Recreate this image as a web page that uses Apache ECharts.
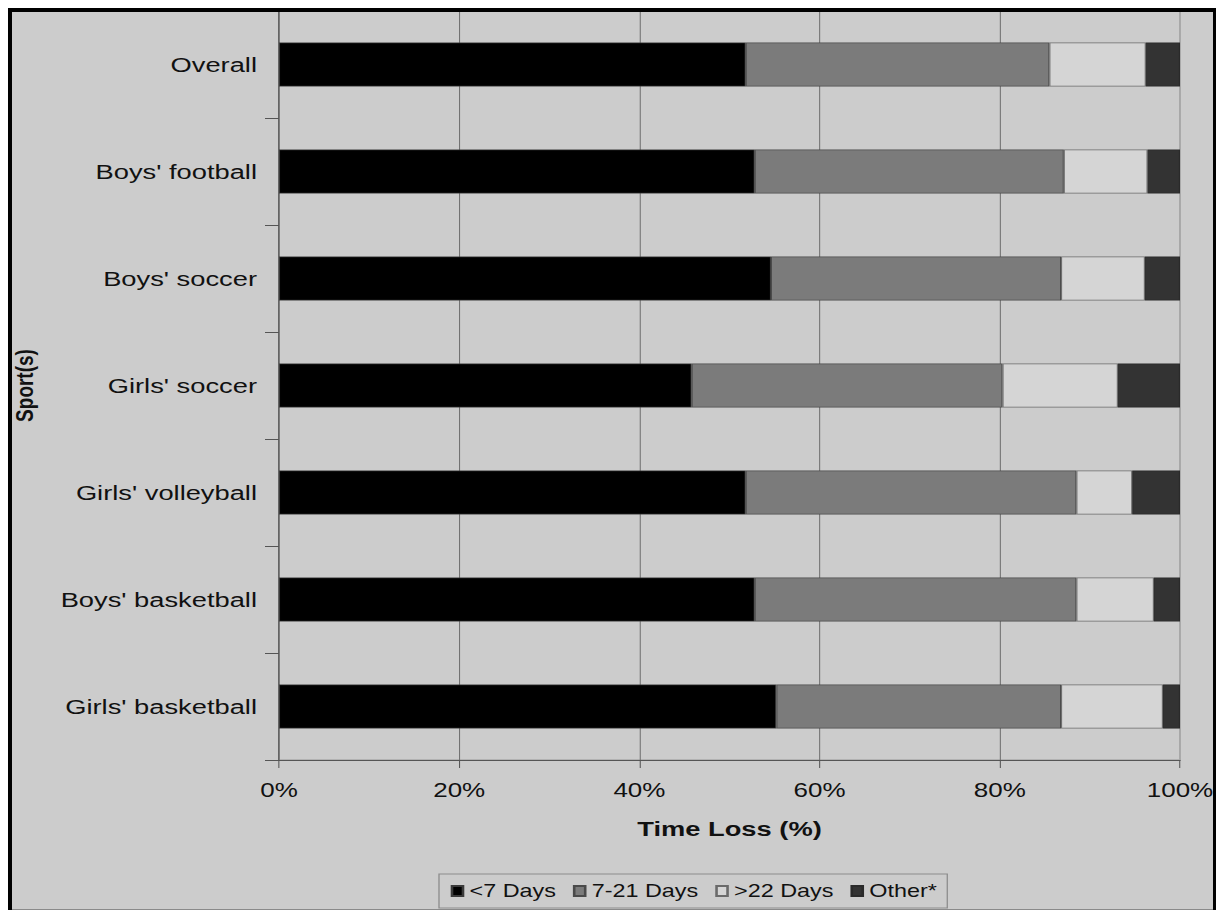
<!DOCTYPE html>
<html>
<head>
<meta charset="utf-8">
<script src="https://cdn.jsdelivr.net/npm/echarts@6/dist/echarts.min.js"></script>
<style>
  html, body { margin: 0; padding: 0; background: #ffffff; overflow: hidden; }
  /* the chart is laid out narrow and widened horizontally, giving the wide lettering of the figure */
  #chart { width: 938px; height: 911px; transform: scaleX(1.3); transform-origin: 0 0; }
</style>
</head>
<body>
<div id="chart"></div>
<script>
// Time loss by sport, share of injuries per duration group (%)
const categories = ['Overall', "Boys' football", "Boys' soccer", "Girls' soccer", "Girls' volleyball", "Boys' basketball", "Girls' basketball"];
const seriesNames = ['<7 Days', '7-21 Days', '>22 Days', 'Other*'];
const lessThan7Days = [51.8, 52.8, 54.6, 45.8, 51.8, 52.8, 55.2];
const days7to21 = [33.7, 34.3, 32.2, 34.5, 36.7, 35.7, 31.6];
const over22Days = [10.7, 9.3, 9.3, 12.8, 6.2, 8.6, 11.3];
const otherDays = [3.8, 3.6, 3.9, 6.9, 5.3, 2.9, 1.9];
const xTicks = [0, 20, 40, 60, 80, 100];

const SX = 1.3;                 // horizontal widening of the page
const W = 938, H = 911;
const px = x => x / SX;         // page x -> chart x

const fills = ['#000000', '#7b7b7b', '#d5d5d5', '#333333'];
const edges = ['#3a3a3a', '#4a4a4a', '#6a6a6a', '#2a2a2a'];
const values = [lessThan7Days, days7to21, over22Days, otherDays];

const chart = echarts.init(document.getElementById('chart'), null, { renderer: 'svg' });

const series = seriesNames.map((name, i) => ({
  name: name,
  type: 'bar',
  stack: 'total',
  barWidth: 44,
  data: values[i],
  itemStyle: { color: fills[i], borderColor: edges[i], borderWidth: 0.8 },
  emphasis: { disabled: true }
}));

const frame = [
  // white surround
  { type: 'rect', shape: { x: 0, y: 0, width: px(8), height: H }, style: { fill: '#ffffff' } },
  { type: 'rect', shape: { x: 0, y: 0, width: W, height: 8 }, style: { fill: '#ffffff' } },
  { type: 'rect', shape: { x: px(1216), y: 0, width: W - px(1216), height: H }, style: { fill: '#ffffff' } },
  { type: 'rect', shape: { x: 0, y: 910, width: W, height: 1 }, style: { fill: '#ffffff' } },
  // black frame edges
  { type: 'rect', shape: { x: px(8), y: 8, width: px(4), height: 902 }, style: { fill: '#000000' } },
  { type: 'rect', shape: { x: px(8), y: 8, width: px(1216) - px(8), height: 4 }, style: { fill: '#000000' } },
  { type: 'rect', shape: { x: px(1213), y: 8, width: px(3), height: 902 }, style: { fill: '#000000' } },
  { type: 'rect', shape: { x: px(12), y: 909, width: px(1213) - px(12), height: 1 }, style: { fill: '#8a8a8a' } }
].map(e => Object.assign({ z: 100, silent: true }, e));

const option = {
  backgroundColor: '#cccccc',
  animation: false,
  textStyle: { fontFamily: '"Liberation Sans", Arial, sans-serif' },
  grid: {
    left: px(279), right: W - px(1180), top: 11, bottom: H - 760,
    show: true, borderColor: '#a9a9a9', borderWidth: 1.5, backgroundColor: 'transparent',
    containLabel: false
  },
  legend: {
    data: seriesNames,
    left: px(439), top: 874,
    orient: 'horizontal',
    icon: 'rect',
    itemWidth: px(11), itemHeight: 10,
    itemGap: 13,
    padding: [8, 8, 8, 9],
    borderColor: '#8c8c8c', borderWidth: 1,
    backgroundColor: 'transparent',
    textStyle: { fontSize: 18, color: '#111111', fontFamily: '"Liberation Sans", Arial, sans-serif' },
    selectedMode: false
  },
  xAxis: {
    type: 'value',
    min: xTicks[0], max: xTicks[xTicks.length - 1], interval: 20,
    name: 'Time Loss (%)',
    nameLocation: 'middle',
    nameGap: 58,
    nameTextStyle: { fontSize: 21, fontWeight: 'bold', color: '#111111' },
    axisLine: { show: true, lineStyle: { color: '#555555', width: 1 } },
    axisTick: { show: true, length: 8, lineStyle: { color: '#555555', width: 0.8 } },
    axisLabel: { formatter: '{value}%', fontSize: 20, color: '#111111', margin: 20 },
    splitLine: {
      show: true,
      lineStyle: { color: ['#707070', '#707070', '#707070', '#707070', '#707070', '#a9a9a9'], width: 0.8 }
    }
  },
  yAxis: {
    type: 'category',
    data: categories,
    inverse: true,
    name: 'Sport(s)',
    nameLocation: 'middle',
    nameGap: 186,
    nameTextStyle: { fontSize: 19, fontWeight: 'bold', color: '#111111' },
    axisLine: { show: true, lineStyle: { color: '#555555', width: 0.8 } },
    axisTick: { show: true, length: px(14), lineStyle: { color: '#555555', width: 1 } },
    axisLabel: { fontSize: 21, color: '#111111', margin: px(22) },
    splitLine: { show: false }
  },
  graphic: frame,
  series: series
};

chart.setOption(option);
</script>
</body>
</html>
